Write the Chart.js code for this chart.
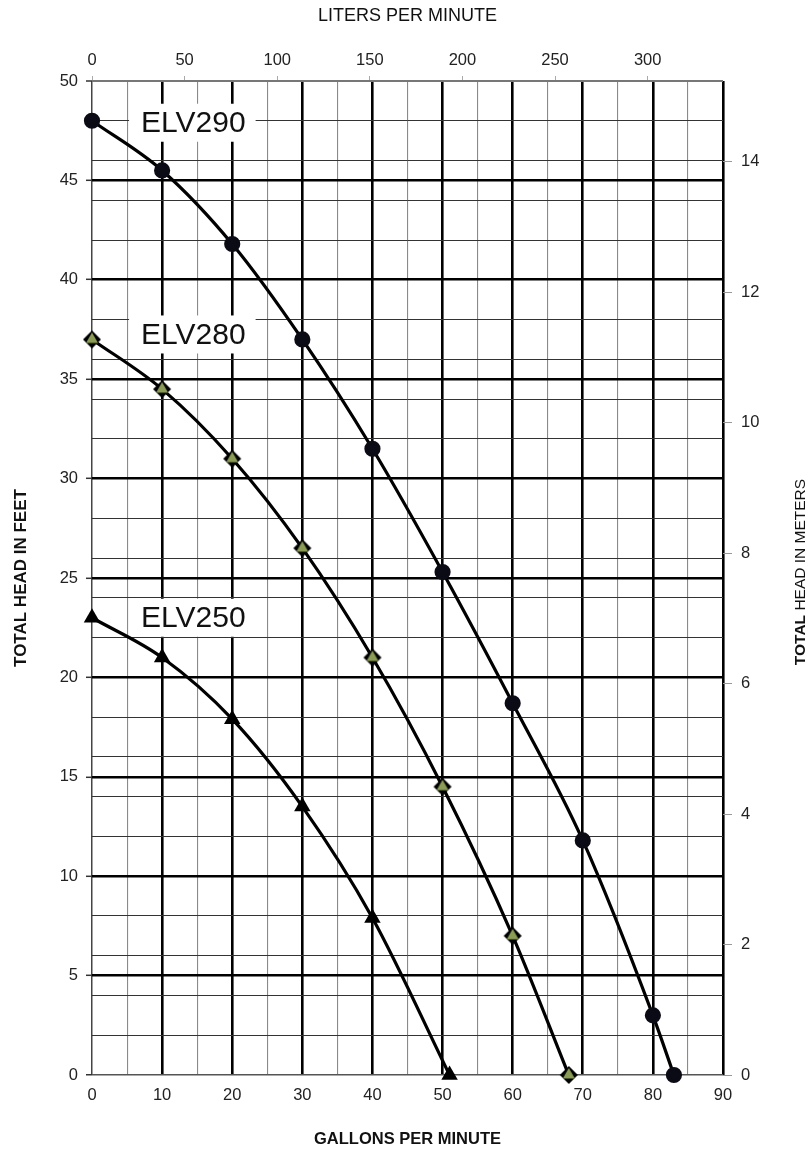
<!DOCTYPE html>
<html>
<head>
<meta charset="utf-8">
<script src="https://cdn.jsdelivr.net/npm/chart.js@4"></script>
<style>
  body { margin: 0; background: #fff; }
  #wrap { width: 810px; height: 1150px; position: relative; }
</style>
</head>
<body>
<div id="wrap"><canvas id="pump-curve"></canvas></div>
<script>
// pump curves (GPM vs feet of head)
var names = ["ELV290", "ELV280", "ELV250"];

var gpm290  = [0, 10, 20, 30, 40, 50, 60, 70, 80, 83];
var head290 = [48, 45.5, 41.8, 37, 31.5, 25.3, 18.7, 11.8, 3, 0];

var gpm280  = [0, 10, 20, 30, 40, 50, 60, 68];
var head280 = [37, 34.5, 31, 26.5, 21, 14.5, 7, 0];

var gpm250  = [0, 10, 20, 30, 40, 51];
var head250 = [23, 21, 17.9, 13.5, 7.9, 0];

// axis ticks
var gpmTicks    = [0, 10, 20, 30, 40, 50, 60, 70, 80, 90];
var gpmMinor    = [5, 15, 25, 35, 45, 55, 65, 75, 85];
var feetTicks   = [0, 5, 10, 15, 20, 25, 30, 35, 40, 45, 50];
var feetMinor   = [2, 4, 6, 8, 12, 14, 16, 18, 22, 24, 26, 28, 32, 34, 36, 38, 42, 44, 46, 48];
var literTicks  = [0, 50, 100, 150, 200, 250, 300];
var meterTicks  = [0, 2, 4, 6, 8, 10, 12, 14];

var FONT = "Arial, 'Liberation Sans', sans-serif";

function pts(xs, ys) {
    return xs.map(function (x, i) { return { x: x, y: ys[i] }; });
}

// black diamond with an olive triangle on top of it
function diamondMarker() {
    var c = document.createElement("canvas");
    c.width = 20; c.height = 20;
    var g = c.getContext("2d");
    g.fillStyle = "#000";
    g.beginPath();
    g.moveTo(10, 1); g.lineTo(19, 10); g.lineTo(10, 19); g.lineTo(1, 10);
    g.closePath(); g.fill();
    g.fillStyle = "#8a9c55";
    g.beginPath();
    g.moveTo(10, 3); g.lineTo(16, 13.5); g.lineTo(4, 13.5);
    g.closePath(); g.fill();
    return c;
}

function tickList(major, minor) {
    return major.concat(minor).sort(function (a, b) { return a - b; })
        .map(function (v) { return { value: v }; });
}

var curveLabels = {
    id: "curveLabels",
    beforeDatasetsDraw: function (chart) {
        var g = chart.ctx, x = chart.scales.x, y = chart.scales.y;
        var spots = [47.9, 37.25, 23];
        g.save();
        g.font = "30px " + FONT;
        g.textBaseline = "middle";
        names.forEach(function (n, i) {
            var px = x.getPixelForValue(7);
            var py = y.getPixelForValue(spots[i]);
            var w = g.measureText(n).width;
            g.fillStyle = "#fff";
            g.fillRect(px - 12, py - 19, w + 22, 38);
            g.fillStyle = "#111";
            g.fillText(n, px, py + 1);
        });
        g.restore();
    },
    afterDraw: function (chart) {
        // right side title: bold "TOTAL" then normal text, reading bottom to top
        var g = chart.ctx;
        var a = "TOTAL", b = " HEAD IN METERS";
        g.save();
        g.font = "bold 15.5px " + FONT;
        var wa = g.measureText(a).width;
        g.font = "15.5px " + FONT;
        var wb = g.measureText(b).width;
        g.translate(801, 572);
        g.rotate(-Math.PI / 2);
        g.textBaseline = "middle";
        g.fillStyle = "#111";
        g.font = "bold 15.5px " + FONT;
        g.fillText(a, -(wa + wb) / 2, 0);
        g.font = "15.5px " + FONT;
        g.fillText(b, -(wa + wb) / 2 + wa, 0);
        g.restore();
    }
};

var line = {
    type: "line",
    data: {
        datasets: [{
            label: names[0],
            data: pts(gpm290, head290),
            borderColor: "#000",
            borderWidth: 3.2,
            pointStyle: "circle",
            pointRadius: 6.5,
            pointBackgroundColor: "#0b0b16",
            pointBorderColor: "#0b0b16",
            cubicInterpolationMode: "monotone",
            clip: false
        }, {
            label: names[1],
            data: pts(gpm280, head280),
            borderColor: "#000",
            borderWidth: 3.2,
            pointStyle: diamondMarker(),
            pointRadius: 9,
            cubicInterpolationMode: "monotone",
            clip: false
        }, {
            label: names[2],
            data: pts(gpm250, head250),
            borderColor: "#000",
            borderWidth: 3.2,
            pointStyle: "triangle",
            pointRadius: 9.5,
            pointBackgroundColor: "#000",
            pointBorderColor: "#000",
            pointBorderWidth: 0,
            cubicInterpolationMode: "monotone",
            clip: false
        }]
    },
    options: {
        responsive: true,
        maintainAspectRatio: false,
        animation: false,
        layout: { padding: 0 },
        plugins: {
            legend: { display: false },
            tooltip: { enabled: false }
        },
        scales: {
            x: {
                type: "linear",
                position: "bottom",
                min: 0, max: 90,
                afterBuildTicks: function (s) { s.ticks = tickList(gpmTicks, gpmMinor); },
                afterFit: function (s) { s.height = 75; },
                border: { display: false },
                grid: {
                    drawTicks: false,
                    color: function (c) {
                        var v = c.tick.value;
                        if (v === 0) return "#444";
                        return gpmTicks.indexOf(v) >= 0 ? "#000" : "#8a8a8a";
                    },
                    lineWidth: function (c) {
                        var v = c.tick.value;
                        if (v === 0) return 1.5;
                        return gpmTicks.indexOf(v) >= 0 ? 2.6 : 1.1;
                    }
                },
                ticks: {
                    autoSkip: false,
                    maxRotation: 0,
                    padding: 11,
                    color: "#222",
                    font: { family: FONT, size: 16.5 },
                    callback: function (v) { return gpmTicks.indexOf(v) >= 0 ? v : ""; }
                },
                title: {
                    display: true,
                    text: "GALLONS PER MINUTE",
                    color: "#111",
                    font: { family: FONT, size: 16.5, weight: "bold" },
                    padding: { top: 0, bottom: 1 }
                }
            },
            x2: {
                type: "linear",
                position: "top",
                min: 0, max: 90 * 3.78541,
                afterBuildTicks: function (s) {
                    s.ticks = literTicks.map(function (v) { return { value: v }; });
                },
                afterFit: function (s) { s.height = 81; },
                border: { display: false },
                grid: {
                    drawOnChartArea: false,
                    color: "#aaa",
                    lineWidth: 1,
                    tickLength: 5
                },
                ticks: {
                    autoSkip: false,
                    maxRotation: 0,
                    padding: 6,
                    color: "#222",
                    font: { family: FONT, size: 16.5 }
                },
                title: {
                    display: true,
                    text: "LITERS PER MINUTE",
                    color: "#111",
                    font: { family: FONT, size: 18 },
                    padding: { top: 5, bottom: 0 }
                }
            },
            y: {
                type: "linear",
                position: "left",
                min: 0, max: 50,
                afterBuildTicks: function (s) { s.ticks = tickList(feetTicks, feetMinor); },
                afterFit: function (s) { s.width = 92; },
                border: { display: false },
                grid: {
                    tickLength: 6,
                    tickWidth: 1.5,
                    tickColor: function (c) {
                        return feetTicks.indexOf(c.tick.value) >= 0 ? "#333" : "rgba(0,0,0,0)";
                    },
                    color: function (c) {
                        var v = c.tick.value;
                        if (v === 0) return "#555";
                        if (v === 50) return "#777";
                        return feetTicks.indexOf(v) >= 0 ? "#000" : "#333";
                    },
                    lineWidth: function (c) {
                        var v = c.tick.value;
                        if (v === 0) return 1.5;
                        if (v === 50) return 2;
                        return feetTicks.indexOf(v) >= 0 ? 2.6 : 1;
                    }
                },
                ticks: {
                    autoSkip: false,
                    padding: 8,
                    color: "#222",
                    font: { family: FONT, size: 16.5 },
                    callback: function (v) { return feetTicks.indexOf(v) >= 0 ? v : ""; }
                },
                title: {
                    display: true,
                    text: "TOTAL HEAD IN FEET",
                    color: "#111",
                    font: { family: FONT, size: 17, weight: "bold" },
                    padding: { top: 11, bottom: 0 }
                }
            },
            y2: {
                type: "linear",
                position: "right",
                min: 0, max: 50 * 0.3048,
                afterBuildTicks: function (s) {
                    s.ticks = meterTicks.map(function (v) { return { value: v }; });
                },
                afterFit: function (s) { s.width = 87; },
                border: { display: false },
                grid: {
                    drawOnChartArea: false,
                    color: "#999",
                    lineWidth: 1,
                    tickLength: 9
                },
                ticks: {
                    autoSkip: false,
                    padding: 9,
                    color: "#222",
                    font: { family: FONT, size: 16.5 }
                }
            }
        }
    },
    plugins: [curveLabels]
};

var chart;
window.addEventListener("load", function () {
    chart = new Chart(document.getElementById("pump-curve"), line);
});
</script>
</body>
</html>
